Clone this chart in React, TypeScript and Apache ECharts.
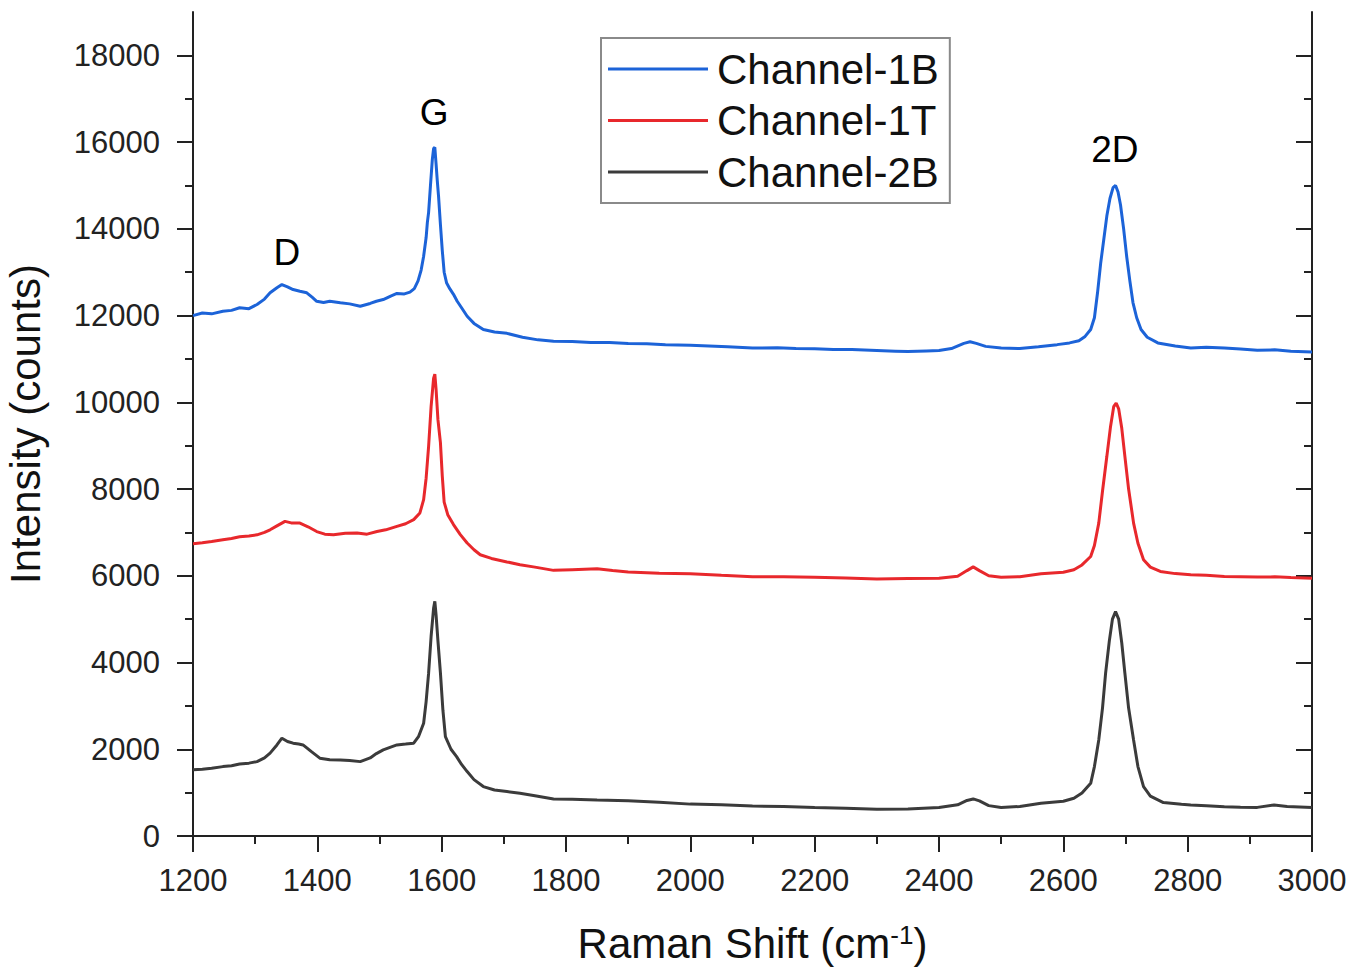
import React, { useEffect, useRef } from "react";
import * as echarts from "echarts";

// ---------- data ----------
const shift1B = [1200,1215,1230,1248,1262,1275,1290,1303,1315,1324,1335,1343,1352,1361,1372,1383,1392,1399,1410,1420,1437,1452,1469,1485,1495,1506,1518,1528,1540,1549,1556,1562,1567,1571,1575,1577,1579,1582,1585,1587,1589,1591,1593,1595,1598,1601,1604,1608,1613,1619,1625,1632,1641,1652,1667,1685,1705,1730,1755,1780,1810,1840,1870,1900,1930,1960,2000,2030,2060,2100,2140,2170,2200,2230,2260,2300,2330,2350,2380,2400,2420,2440,2450,2460,2475,2500,2530,2560,2590,2610,2625,2635,2644,2650,2655,2660,2665,2670,2675,2680,2684,2688,2692,2697,2702,2707,2712,2718,2725,2735,2752,2780,2805,2830,2859,2885,2912,2940,2966,3000];
const counts1B = [12000,12060,12040,12100,12120,12180,12160,12255,12380,12525,12640,12715,12660,12600,12560,12525,12420,12330,12300,12330,12295,12270,12215,12280,12330,12370,12450,12510,12500,12540,12620,12800,13050,13370,13800,14150,14380,15000,15600,15850,15880,15500,15100,14750,14100,13500,13000,12750,12620,12490,12330,12180,11985,11820,11680,11620,11590,11500,11440,11410,11400,11380,11380,11355,11350,11330,11315,11300,11280,11250,11260,11240,11235,11220,11215,11195,11180,11170,11185,11195,11240,11360,11395,11360,11290,11250,11240,11280,11330,11370,11420,11520,11680,11950,12525,13200,13750,14300,14700,14950,15000,14850,14550,14000,13350,12800,12300,11950,11680,11500,11370,11300,11255,11270,11255,11230,11200,11210,11180,11160];

const shift1T = [1200,1215,1230,1248,1262,1275,1290,1303,1315,1324,1335,1348,1358,1372,1385,1399,1412,1426,1445,1464,1480,1496,1510,1528,1542,1555,1565,1571,1575,1579,1583,1587,1589,1591,1594,1598,1601,1604,1610,1619,1630,1641,1652,1662,1680,1705,1726,1750,1780,1810,1850,1875,1900,1950,2000,2050,2100,2150,2200,2250,2300,2350,2400,2430,2445,2455,2465,2480,2500,2530,2564,2600,2617,2630,2644,2650,2657,2663,2670,2676,2681,2685,2689,2694,2699,2705,2713,2720,2729,2740,2756,2780,2805,2830,2859,2885,2912,2940,2966,3000];
const counts1T = [6740,6760,6790,6830,6860,6900,6920,6945,7000,7060,7150,7255,7220,7215,7130,7020,6960,6945,6980,6985,6960,7020,7060,7140,7200,7295,7450,7755,8250,8985,9900,10550,10650,10300,9600,9070,8300,7700,7400,7180,6950,6755,6600,6485,6400,6320,6255,6200,6125,6140,6160,6120,6085,6060,6045,6010,5980,5975,5965,5950,5925,5935,5945,5990,6120,6205,6120,6000,5965,5980,6045,6080,6140,6250,6445,6700,7215,7950,8755,9450,9900,9985,9850,9400,8755,8000,7215,6750,6370,6200,6100,6050,6025,6010,5985,5980,5970,5975,5960,5945];

const shift2B = [1200,1215,1230,1248,1262,1275,1290,1303,1315,1324,1335,1343,1352,1361,1370,1377,1390,1404,1420,1437,1452,1469,1485,1495,1506,1518,1528,1542,1555,1563,1571,1575,1579,1583,1587,1589,1591,1594,1598,1602,1606,1615,1624,1632,1641,1652,1667,1685,1705,1726,1750,1780,1810,1850,1900,1950,2000,2050,2100,2150,2200,2250,2300,2350,2400,2430,2445,2455,2465,2480,2500,2530,2564,2600,2617,2630,2644,2650,2657,2663,2668,2674,2679,2684,2689,2694,2699,2705,2713,2720,2729,2740,2761,2790,2805,2830,2859,2885,2912,2939,2960,3000];
const counts2B = [1525,1540,1560,1600,1620,1660,1680,1715,1800,1910,2100,2255,2180,2140,2120,2100,1950,1795,1760,1755,1740,1715,1800,1900,1985,2050,2100,2120,2140,2300,2600,3100,3755,4600,5250,5410,5100,4500,3760,2900,2290,2000,1830,1650,1485,1300,1140,1060,1025,985,930,855,850,830,810,780,735,720,690,680,655,640,615,625,655,720,820,855,810,700,655,680,755,800,870,990,1215,1600,2215,2950,3755,4500,5000,5175,5000,4450,3755,2950,2215,1600,1140,920,770,730,715,700,675,665,660,715,680,660];

const seriesNames = ["Channel-1B", "Channel-1T", "Channel-2B"];
const peakLabels = ["D", "G", "2D"];
const peakLabelShift = [1351, 1588, 2683];
const peakLabelCounts = [13455, 16690, 15830];

const xTicks = [1200, 1400, 1600, 1800, 2000, 2200, 2400, 2600, 2800, 3000];
const yMajorTicks = [0, 2000, 4000, 6000, 8000, 10000, 12000, 14000, 16000, 18000];
const yMinorTicks = [1000, 3000, 5000, 7000, 9000, 11000, 13000, 15000, 17000];

const FONT = "'Liberation Sans', Arial, Helvetica, sans-serif";
const AX = "#222";

function zip(xs: number[], ys: number[]) {
  return xs.map((x, i) => [x, ys[i]]);
}

const plain = (v: number) => String(v);

export default function App() {
  const ref = useRef<HTMLDivElement>(null);

  useEffect(() => {
    if (!ref.current) return;
    const chart = echarts.init(ref.current, null, { renderer: "svg" });

    const axisLine = { show: true, lineStyle: { color: AX, width: 2 } };
    const tickLine = { color: AX, width: 2 };
    const xBase = {
      type: "value" as const,
      min: xTicks[0],
      max: xTicks[xTicks.length - 1],
      interval: 200,
      splitLine: { show: false },
      axisLine,
    };
    const yBase = {
      type: "value" as const,
      min: 0,
      max: 19000,
      splitLine: { show: false },
    };

    const option: any = {
      animation: false,
      textStyle: { fontFamily: FONT },
      grid: {
        left: 193,
        right: 44,
        top: 12,
        bottom: 143,
        containLabel: false,
        outerBoundsMode: "none",
      },
      legend: {
        data: seriesNames,
        orient: "vertical",
        left: 601,
        top: 38,
        padding: [10, 11, 10, 7],
        itemGap: 9.5,
        itemWidth: 100,
        itemHeight: 3,
        icon: "rect",
        borderColor: "#8a8a8a",
        borderWidth: 2,
        selectedMode: false,
        textStyle: { fontSize: 42, color: "#111", fontFamily: FONT, padding: [0, 0, 0, 4] },
      },
      xAxis: [
        {
          ...xBase,
          position: "bottom",
          name: "{n|Raman Shift (cm}{s|-1}{n|)}",
          nameLocation: "middle",
          nameGap: 86,
          nameTextStyle: {
            rich: {
              n: { fontSize: 42, color: "#111", fontFamily: FONT },
              s: { fontSize: 26, color: "#111", fontFamily: FONT, verticalAlign: "top" },
            },
          },
          axisTick: { show: true, length: 16, lineStyle: tickLine },
          minorTick: { show: true, splitNumber: 2, length: 8, lineStyle: tickLine },
          axisLabel: { fontSize: 31, color: AX, margin: 29, fontFamily: FONT, formatter: plain },
        },
        {
          ...xBase,
          position: "top",
          axisTick: { show: true, inside: true, length: 16, lineStyle: tickLine },
          minorTick: { show: true, splitNumber: 2, length: 8, lineStyle: tickLine },
          axisLabel: { show: false },
        },
      ],
      yAxis: [
        {
          ...yBase,
          position: "left",
          name: "Intensity (counts)",
          nameLocation: "middle",
          nameGap: 147,
          nameTextStyle: { fontSize: 42, color: "#111", fontFamily: FONT },
          axisLine,
          axisTick: { show: true, length: 16, lineStyle: tickLine, customValues: yMajorTicks },
          axisLabel: {
            fontSize: 31,
            color: AX,
            margin: 33,
            fontFamily: FONT,
            customValues: yMajorTicks,
            formatter: plain,
          },
        },
        {
          ...yBase,
          position: "left",
          axisLine: { show: false },
          axisTick: { show: true, length: 8, lineStyle: tickLine, customValues: yMinorTicks },
          axisLabel: { show: false },
        },
        {
          ...yBase,
          position: "right",
          axisLine,
          axisTick: { show: true, inside: true, length: 16, lineStyle: tickLine, customValues: yMajorTicks },
          axisLabel: { show: false },
        },
        {
          ...yBase,
          position: "right",
          axisLine: { show: false },
          axisTick: { show: true, inside: true, length: 8, lineStyle: tickLine, customValues: yMinorTicks },
          axisLabel: { show: false },
        },
      ],
      series: [
        {
          name: seriesNames[0],
          type: "line",
          xAxisIndex: 0,
          yAxisIndex: 0,
          symbol: "none",
          showSymbol: false,
          color: "#1c63d8",
          lineStyle: { color: "#1c63d8", width: 3 },
          data: zip(shift1B, counts1B),
          z: 3,
        },
        {
          name: seriesNames[1],
          type: "line",
          xAxisIndex: 0,
          yAxisIndex: 0,
          symbol: "none",
          showSymbol: false,
          color: "#e8282c",
          lineStyle: { color: "#e8282c", width: 3 },
          data: zip(shift1T, counts1T),
          z: 3,
        },
        {
          name: seriesNames[2],
          type: "line",
          xAxisIndex: 0,
          yAxisIndex: 0,
          symbol: "none",
          showSymbol: false,
          color: "#3b3b3b",
          lineStyle: { color: "#3b3b3b", width: 3 },
          data: zip(shift2B, counts2B),
          z: 3,
        },
        {
          name: "peaks",
          type: "scatter",
          xAxisIndex: 0,
          yAxisIndex: 0,
          silent: true,
          symbolSize: 1,
          itemStyle: { color: "#ffffff", opacity: 0 },
          label: {
            show: true,
            position: "inside",
            formatter: (p: any) => p.name,
            fontSize: 37,
            color: "#000",
            opacity: 1,
            textBorderWidth: 0,
            fontFamily: FONT,
          },
          data: peakLabels.map((n, i) => ({ name: n, value: [peakLabelShift[i], peakLabelCounts[i]] })),
        },
      ],
    };

    chart.setOption(option);
    return () => chart.dispose();
  }, []);

  return (
    <div
      ref={ref}
      style={{ position: "absolute", left: 0, top: 0, width: 1356, height: 979, background: "#fff" }}
    />
  );
}
